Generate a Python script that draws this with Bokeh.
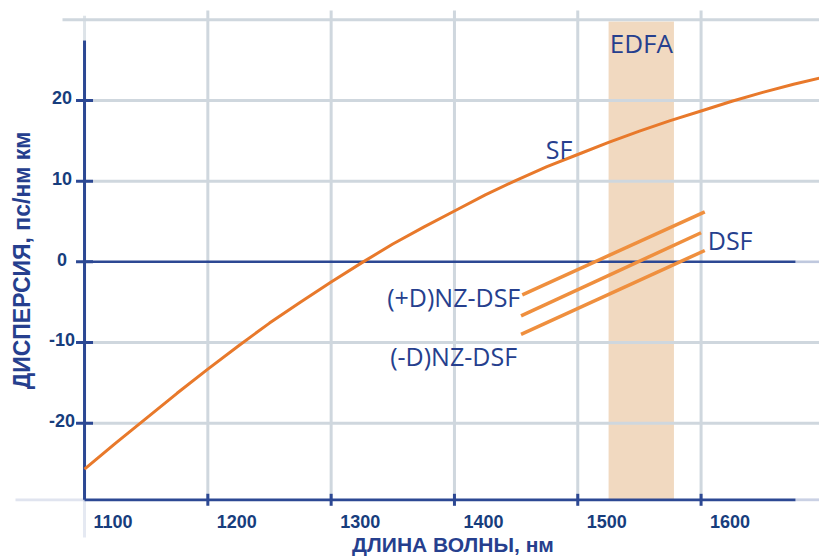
import numpy as np
from bokeh.plotting import figure
from bokeh.models import Range1d, Label
from bokeh.core.properties import value
from bokeh.embed import file_html
from bokeh.resources import INLINE

# ---------------- data ----------------
wavelength_ticks = [1100, 1200, 1300, 1400, 1500, 1600]
wavelength_labels = ["1100", "1200", "1300", "1400", "1500", "1600"]
dispersion_ticks = [20, 10, 0, -10, -20]
dispersion_labels = ["20", "10", "0", "-10", "-20"]
grid_levels = [30, 20, 10, -10, -20]

sf_wavelength = [1100, 1125, 1150, 1175, 1200, 1225, 1250, 1275, 1300, 1325, 1350, 1375,
                 1400, 1425, 1450, 1475, 1500, 1525, 1550, 1575, 1600, 1625, 1650, 1675, 1700]
sf_dispersion = [-25.7, -22.5, -19.4, -16.3, -13.3, -10.4, -7.6, -5.0, -2.5, -0.1, 2.2, 4.3,
                 6.3, 8.3, 10.1, 11.8, 13.3, 14.8, 16.2, 17.5, 18.7, 19.9, 21.0, 22.0, 22.9]

nzdsf_pos_wavelength = [1455, 1603]
nzdsf_pos_dispersion = [-4.1, 6.2]
dsf_wavelength = [1454, 1600]
dsf_dispersion = [-6.7, 3.6]
nzdsf_neg_wavelength = [1454, 1603]
nzdsf_neg_dispersion = [-9.0, 1.4]

edfa_band = [1525, 1578]

title_x = "ДЛИНА ВОЛНЫ, нм"
title_y = "ДИСПЕРСИЯ, пс/нм км"

# ---------------- layout / scales ----------------
W, H = 819, 556
PX_PER_NM = 1.2331
PX_PER_UNIT = 8.067
X_START = 1350 + (0 - 392.3) / PX_PER_NM
X_END = X_START + W / PX_PER_NM
Y_TOP = 261.3 / PX_PER_UNIT
Y_BOT = Y_TOP - H / PX_PER_UNIT


def xd(X):  # canvas pixel -> wavelength
    return X_START + X / PX_PER_NM


def yd(Y):  # canvas pixel -> dispersion
    return Y_TOP - Y / PX_PER_UNIT


AXIS_Y = yd(499.3)
AXIS_X = wavelength_ticks[0]
GRID_TOP = grid_levels[0]
X_FADE = xd(795)

AXIS_COLOR = "#2c4893"
GRID_COLOR = "#cfd7de"
TICK_TEXT = "#173d7d"
TEXT_BLUE = "#263f8e"
SF_COLOR = "#e8792b"
DSF_COLOR = "#ef8f3e"
BAND_COLOR = "#f1d9c0"

p = figure(width=W, height=H, output_backend="svg", toolbar_location=None,
           x_axis_type=None, y_axis_type=None,
           x_range=Range1d(X_START, X_END), y_range=Range1d(Y_BOT, Y_TOP),
           min_border=0, min_border_left=0, min_border_right=0,
           min_border_top=0, min_border_bottom=0)
p.outline_line_color = None
p.background_fill_color = "white"
p.border_fill_color = "white"

# EDFA band
p.quad(left=[edfa_band[0]], right=[edfa_band[1]], bottom=[AXIS_Y], top=[GRID_TOP - 0.2],
       fill_color=BAND_COLOR, line_color=None)

# grid: vertical
vx = wavelength_ticks[1:]
p.segment(x0=vx, y0=[yd(10)] * len(vx), x1=vx, y1=[AXIS_Y] * len(vx),
          line_color=GRID_COLOR, line_width=3)
# faint top extension of the y axis
p.segment(x0=[AXIS_X], y0=[GRID_TOP + 0.5], x1=[AXIS_X], y1=[yd(40)],
          line_color=GRID_COLOR, line_width=3, line_alpha=0.7)

# grid: horizontal
hx0 = [xd(62)] + [AXIS_X] * (len(grid_levels) - 1)
p.segment(x0=hx0, y0=grid_levels, x1=[X_END] * len(grid_levels), y1=grid_levels,
          line_color=GRID_COLOR, line_width=3)

# zero line
p.segment(x0=[AXIS_X], y0=[0], x1=[X_FADE], y1=[0], line_color=AXIS_COLOR, line_width=2.6)
p.segment(x0=[X_FADE], y0=[0], x1=[X_END], y1=[0], line_color=AXIS_COLOR, line_width=2.6,
          line_alpha=0.3)

# axes lines
p.segment(x0=[AXIS_X], y0=[yd(40)], x1=[AXIS_X], y1=[AXIS_Y], line_color=AXIS_COLOR,
          line_width=3)
p.segment(x0=[AXIS_X], y0=[AXIS_Y], x1=[AXIS_X], y1=[yd(537)], line_color=AXIS_COLOR,
          line_width=3, line_alpha=0.12)
p.segment(x0=[AXIS_X], y0=[AXIS_Y], x1=[X_FADE], y1=[AXIS_Y], line_color=AXIS_COLOR,
          line_width=2.8)
p.segment(x0=[X_FADE], y0=[AXIS_Y], x1=[X_END], y1=[AXIS_Y], line_color=AXIS_COLOR,
          line_width=2.8, line_alpha=0.25)
p.segment(x0=[xd(15)], y0=[AXIS_Y], x1=[AXIS_X], y1=[AXIS_Y], line_color=AXIS_COLOR,
          line_width=2.8, line_alpha=0.15)

# tick marks
p.scatter(x=[AXIS_X] * len(dispersion_ticks), y=dispersion_ticks, marker="dash", size=17,
          line_color=AXIS_COLOR, line_width=3)
p.scatter(x=wavelength_ticks[1:], y=[AXIS_Y] * (len(wavelength_ticks) - 1), marker="dash",
          angle=np.pi / 2, size=12, line_color=AXIS_COLOR, line_width=3)

# curves
p.line(sf_wavelength, sf_dispersion, line_color=SF_COLOR, line_width=3)
p.line(nzdsf_pos_wavelength, nzdsf_pos_dispersion, line_color=DSF_COLOR, line_width=3.5)
p.line(dsf_wavelength, dsf_dispersion, line_color=DSF_COLOR, line_width=3.5)
p.line(nzdsf_neg_wavelength, nzdsf_neg_dispersion, line_color=DSF_COLOR, line_width=3.5)

# tick labels
p.text(x=[AXIS_X] * len(dispersion_ticks), y=dispersion_ticks, text=dispersion_labels,
       x_offset=-22.5, y_offset=-2.5, text_align="center", text_baseline="alphabetic",
       text_font=value("Liberation Sans"), text_font_style="bold", text_font_size="18px",
       text_color=TICK_TEXT)
p.text(x=wavelength_ticks, y=[AXIS_Y] * len(wavelength_ticks), text=wavelength_labels,
       x_offset=9, y_offset=21.4, text_align="left", text_baseline="alphabetic",
       text_font=value("Liberation Sans"), text_font_style="bold", text_font_size="18px",
       text_color=TICK_TEXT)

# in-plot labels
inner = dict(text_font=value("Open Sans"), text_font_size="25px", text_color=TEXT_BLUE,
             text_baseline="alphabetic")
sf_lab_x = 1474
p.text(x=[sf_lab_x], y=[float(np.interp(sf_lab_x, sf_wavelength, sf_dispersion))],
       text=["SF"], x_offset=0, y_offset=-17.7, text_align="left", **inner)
p.text(x=[nzdsf_pos_wavelength[0]], y=[nzdsf_pos_dispersion[0]], text=["(+D)NZ-DSF"],
       x_offset=-2, y_offset=1.7, text_align="right", **inner)
p.text(x=[nzdsf_neg_wavelength[0]], y=[nzdsf_neg_dispersion[0]], text=["(-D)NZ-DSF"],
       x_offset=-4, y_offset=21.6, text_align="right", **inner)
p.text(x=[dsf_wavelength[-1]], y=[dsf_dispersion[-1]], text=["DSF"],
       x_offset=6.7, y_offset=7.7, text_align="left", **inner)
p.text(x=[sum(edfa_band) / 2], y=[GRID_TOP - 0.2], text=["EDFA"], x_offset=0, y_offset=21.8,
       text_align="center", text_font=value("Open Sans"), text_font_size="26px",
       text_color=TEXT_BLUE, text_baseline="alphabetic")

# axis titles
p.add_layout(Label(x=xd(452.5), y=yd(544), text=title_x, text_align="center",
                   text_baseline="alphabetic", text_font="Liberation Sans",
                   text_font_style="bold", text_font_size="21px", text_color=TEXT_BLUE))
p.add_layout(Label(x=xd(21.5), y=yd(260), text=title_y, angle=90, angle_units="deg",
                   text_align="center", text_baseline="middle",
                   text_font="Liberation Sans", text_font_style="bold",
                   text_font_size="23px", text_color=TEXT_BLUE))

open("out.html", "w").write(file_html(p, INLINE))
